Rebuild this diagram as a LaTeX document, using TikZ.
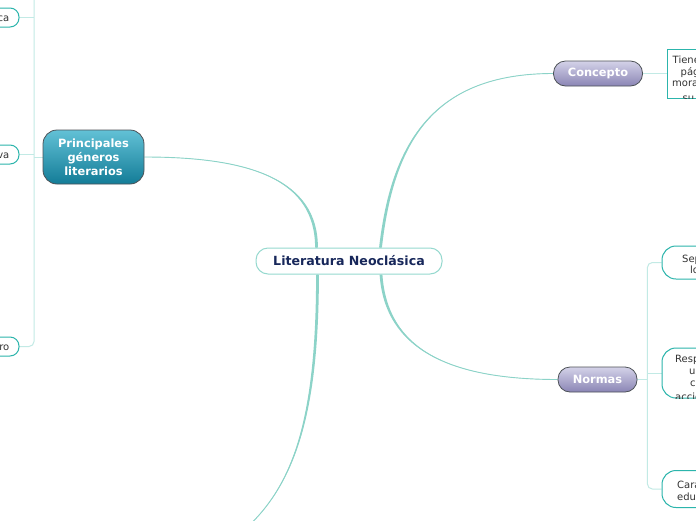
\documentclass[tikz,border=0pt]{standalone}
\usepackage{fontspec}
\setmainfont{DejaVu Sans}
\usetikzlibrary{calc,backgrounds}
\definecolor{curvec}{HTML}{8CD3C8}
\definecolor{thinc}{HTML}{C2EAE5}
\definecolor{leafc}{HTML}{2CB5AC}
\definecolor{navyc}{HTML}{17275A}
\definecolor{txtc}{HTML}{333333}
\definecolor{pgtop}{HTML}{62C1D6}
\definecolor{pgbot}{HTML}{137C97}
\definecolor{contop}{HTML}{D4D2E8}
\definecolor{conbot}{HTML}{8A85B5}
\definecolor{edgec}{HTML}{4D5257}
\definecolor{litedge}{HTML}{96D9CF}
\newcommand\tapercurve[4]{%
  \fill[curvec] ($(#1)+(-1.4,0)$) .. controls +(#2) and +(#3) .. (#4)
     .. controls +(#3) and +(#2) .. ($(#1)+(1.4,0)$) -- cycle;
  \draw[curvec, line width=0.9pt] (#1) .. controls +(#2) and +(#3) .. (#4);}
\tikzset{
  leafbox/.style={draw=leafc, line width=1pt, fill=white, rounded corners=14pt, inner sep=0pt},
  leaftext/.style={font=\fontsize{10}{12}\selectfont, text=txtc, inner sep=0pt},
  thinline/.style={draw=thinc, line width=1pt},
  mainbox/.style={draw=edgec, line width=0.8pt, inner sep=0pt, text=white,
    font=\bfseries\fontsize{11.4}{14}\selectfont, align=center},
}
\begin{document}
\begin{tikzpicture}[x=1pt, y=-1pt, line cap=round]
\useasboundingbox (0,0) rectangle (696,520);
\clip (0,0) rectangle (696,520);

% central topic
\node[draw=litedge, line width=1pt, fill=white, rounded corners=12pt, inner sep=0pt,
  minimum width=186pt, minimum height=26pt, text=navyc,
  font=\bfseries\fontsize{12.6}{15}\selectfont] (lit) at (349,261) {Literatura Neoclásica};

% main topics
\node[mainbox, top color=pgtop, bottom color=pgbot, rounded corners=14pt,
  minimum width=101pt, minimum height=54pt] (pg) at (93.5,157) {Principales\\géneros\\literarios};
\node[mainbox, top color=contop, bottom color=conbot, rounded corners=12pt,
  minimum width=89pt, minimum height=25pt] (con) at (598,73.5) {Concepto};
\node[mainbox, top color=contop, bottom color=conbot, rounded corners=12pt,
  minimum width=79pt, minimum height=25pt] (nor) at (597.5,379.5) {Normas};

% Concepto leaf
\node[draw=leafc, line width=1pt, fill=white, inner sep=0pt,
  minimum width=90pt, minimum height=49pt] (tie) at (712,73.5) {};
\begin{scope}
  \clip (tie.north west) rectangle (tie.south east);
  \node[leaftext, anchor=base west] (tie1) at (672.5,63) {Tiene};
  \node[leaftext, anchor=base west] (tie2) at (680.5,75) {pág};
  \node[leaftext, anchor=base west] (tie3) at (672,86.5) {mora};
  \node[leaftext, anchor=base west] (tie4) at (682.5,101.5) {su};
\end{scope}

% Normas leaves
\node[leafbox, minimum width=90pt, minimum height=33pt] (s1) at (707,262.5) {};
\node[leaftext, anchor=base west] (s1a) at (682,262) {Sep};
\node[leaftext, anchor=base west] (s1b) at (690,273.5) {lo};

\node[leafbox, minimum width=90pt, minimum height=50pt] (s2) at (707,373) {};
\begin{scope}
  \clip[rounded corners=14pt] (s2.north west) rectangle (s2.south east);
  \node[leaftext, anchor=base west] (s2a) at (675,362) {Resp};
  \node[leaftext, anchor=base west] (s2b) at (689,374) {u};
  \node[leaftext, anchor=base west] (s2c) at (690,386) {c};
  \node[leaftext, anchor=base west] (s2d) at (675,400.5) {accio};
\end{scope}

\node[leafbox, minimum width=90pt, minimum height=37pt] (s3) at (707,489) {};
\node[leaftext, anchor=base west] (s3a) at (677,488.5) {Cara};
\node[leaftext, anchor=base west] (s3b) at (677,500) {edu};

% Principales leaves
\node[leafbox, rounded corners=9pt, minimum width=60pt, minimum height=19pt] (ca) at (-11,17.5) {};
\node[leaftext, anchor=base east] (cat) at (9.5,21.5) {ca};
\node[leafbox, rounded corners=9pt, minimum width=60pt, minimum height=19pt] (va) at (-11,154.5) {};
\node[leaftext, anchor=base east] (vat) at (9.5,158.5) {va};
\node[leafbox, rounded corners=9pt, minimum width=60pt, minimum height=19pt] (ro) at (-11,346.5) {};
\node[leaftext, anchor=base east] (rot) at (9.5,350.5) {ro};

\coordinate (lnw) at ($(lit.north)+(-32.5,0)$);
\coordinate (lne) at ($(lit.north)+(31.5,0)$);
\coordinate (lsw) at ($(lit.south)+(-31.5,0)$);
\coordinate (lse) at ($(lit.south)+(32,0)$);
\coordinate (off) at (225,545);
\coordinate (ltop) at (34,-10);

\begin{pgfonlayer}{background}
  \fill[white] (0,0) rectangle (696,520);
  \tapercurve{lnw}{0,-68}{106,0}{pg.east}
  \tapercurve{lne}{12,-105}{-120,0}{con.west}
  \tapercurve{lse}{5,75}{-108,0}{nor.west}
  \tapercurve{lsw}{0,155}{65,-45}{off}
  \draw[thinline] (con.east) -- (tie.west);
  \draw[thinline] (nor.east) -- ++(10,0) coordinate (nb);
  \draw[thinline, rounded corners=5pt] (s1.west) -| (nb) |- (s3.west);
  \draw[thinline] (s2.west -| nb) -- (s2.west);
  \draw[thinline, rounded corners=5pt] (ltop) |- (ro.east);
  \draw[thinline] (ca.east) -- (ca.east -| ltop);
  \draw[thinline] (va.east) -- (va.east -| ltop);
  \draw[thinline] (pg.west) -- (pg.west -| ltop);
\end{pgfonlayer}
\end{tikzpicture}
\end{document}
